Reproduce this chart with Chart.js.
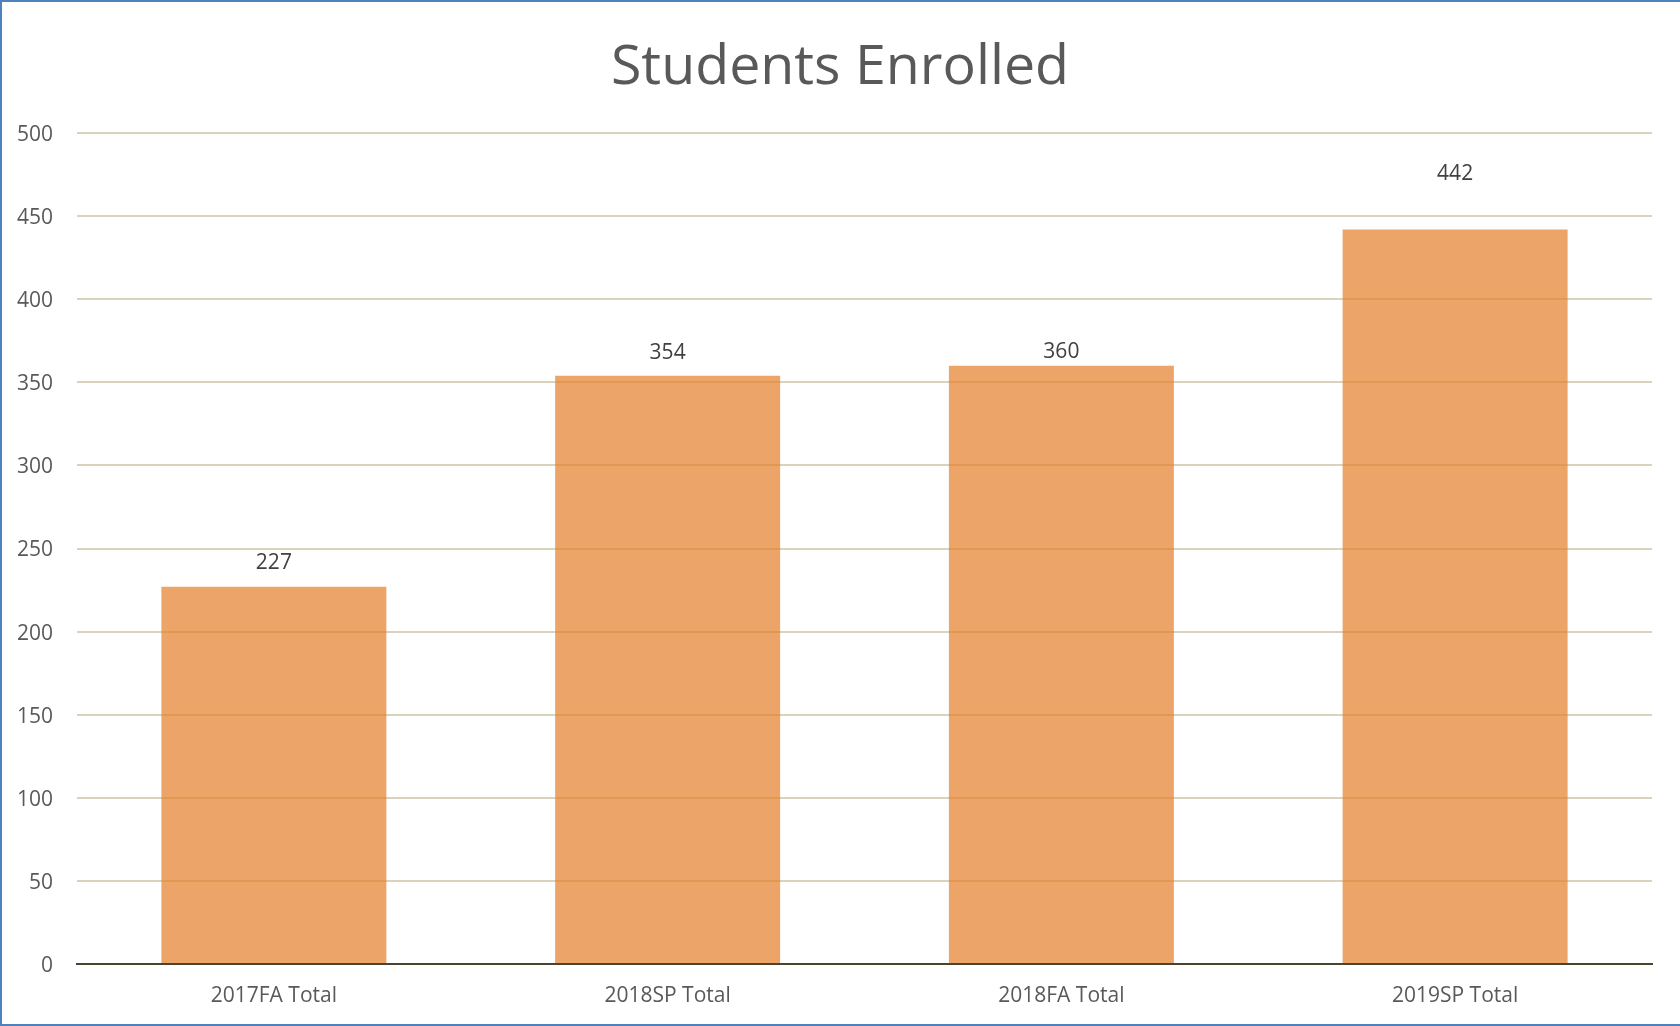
<!DOCTYPE html>
<html>
<head>
<meta charset="utf-8">
<script src="https://cdn.jsdelivr.net/npm/chart.js@4"></script>
<style>
  html, body { margin: 0; padding: 0; background: #ffffff; }
  #wrap { position: relative; width: 1680px; height: 1026px; }
  #c { position: absolute; left: 0; top: 0; }
  #frame { position: absolute; left: 0; top: 0; width: 1680px; height: 1026px; box-sizing: border-box;
           border-left: 2px solid #4f81bd; border-top: 2px solid #4f81bd; border-bottom: 2px solid #4f81bd;
           pointer-events: none; }
</style>
</head>
<body>
<div id="wrap">
  <canvas id="c" width="1680" height="1026"></canvas>
  <div id="frame"></div>
</div>
<script>
const titleText = "Students Enrolled";
const categories = ["2017FA Total", "2018SP Total", "2018FA Total", "2019SP Total"];
const enrolled = [227, 354, 360, 442];
const yTicks = [0, 50, 100, 150, 200, 250, 300, 350, 400, 450, 500];

const FONT = "'Open Sans', 'DejaVu Sans', sans-serif";

const valueLabels = {
  id: 'valueLabels',
  afterDatasetsDraw(chart, args, opts) {
    const ctx = chart.ctx;
    const meta = chart.getDatasetMeta(0);
    const ds = chart.data.datasets[0];
    ctx.save();
    ctx.font = opts.font;
    ctx.fillStyle = opts.color;
    ctx.textAlign = 'center';
    ctx.textBaseline = 'middle';
    meta.data.forEach((bar, i) => {
      const off = opts.offsets[i];
      ctx.fillText(String(ds.data[i]), bar.x, bar.y - off);
    });
    ctx.restore();
  }
};

new Chart(document.getElementById('c'), {
  type: 'bar',
  data: {
    labels: categories,
    datasets: [{
      label: 'Students Enrolled',
      data: enrolled,
      backgroundColor: 'rgba(229,126,42,0.7)',
      borderWidth: 0,
      barPercentage: 0.5714,
      categoryPercentage: 1.0
    }]
  },
  options: {
    responsive: false,
    animation: false,
    devicePixelRatio: 1,
    layout: { padding: 0 },
    plugins: {
      legend: { display: false },
      tooltip: { enabled: false },
      title: {
        display: true,
        text: titleText,
        color: '#595959',
        font: { family: FONT, size: 55.5, weight: 'normal', lineHeight: 1.2 },
        padding: { top: 34.7, bottom: 31.7 }
      },
      valueLabels: {
        font: "21px " + FONT,
        color: '#404040',
        offsets: [23.5, 23, 14, 55]
      }
    },
    scales: {
      x: {
        grid: { display: false, drawTicks: false },
        border: { display: true, color: '#4a4330', width: 2 },
        ticks: { color: '#595959', font: { family: FONT, size: 21 }, padding: 19 },
        afterFit(scale) { scale.height = 62; }
      },
      y: {
        min: 0,
        max: 500,
        afterBuildTicks(scale) { scale.ticks = yTicks.map(v => ({ value: v })); },
        grid: { color: '#d9d3bb', lineWidth: 2, drawTicks: false },
        border: { display: false },
        ticks: { color: '#595959', font: { family: FONT, size: 21 }, padding: 24, labelOffset: 2 },
        afterFit(scale) { scale.width = 77; }
      },
      yRight: {
        type: 'linear',
        position: 'right',
        min: 0,
        max: 500,
        grid: { display: false, drawTicks: false },
        border: { display: false },
        ticks: { display: false },
        afterFit(scale) { scale.width = 28; }
      }
    }
  },
  plugins: [valueLabels]
});
</script>
</body>
</html>
